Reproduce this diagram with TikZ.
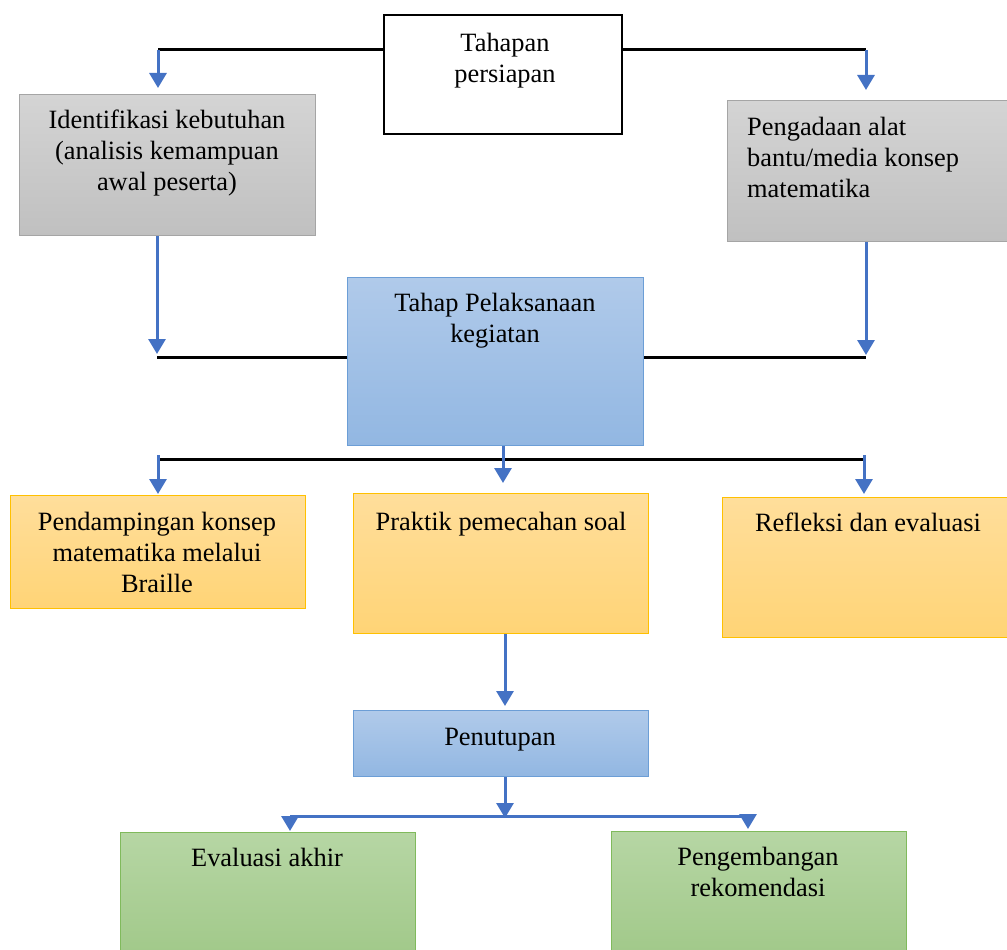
\documentclass[tikz,border=0pt]{standalone}
\usepackage{fontspec}
\setmainfont{Liberation Serif}
\usetikzlibrary{arrows.meta}
\definecolor{graytop}{RGB}{212,212,212}
\definecolor{graybot}{RGB}{192,192,192}
\definecolor{grayborder}{RGB}{165,165,165}
\definecolor{bluetop}{RGB}{176,202,234}
\definecolor{bluebot}{RGB}{146,183,226}
\definecolor{blueborder}{RGB}{108,158,214}
\definecolor{orangetop}{RGB}{255,222,155}
\definecolor{orangebot}{RGB}{255,212,118}
\definecolor{orangeborder}{RGB}{255,192,0}
\definecolor{greentop}{RGB}{182,214,164}
\definecolor{greenbot}{RGB}{160,200,136}
\definecolor{greenborder}{RGB}{128,186,92}
\definecolor{arrowblue}{RGB}{68,114,196}
\begin{document}
\begin{tikzpicture}[x=1pt,y=-1pt,
  box/.style={anchor=north west,inner sep=0pt,line width=1.2pt},
  whitebox/.style={box,draw=black,line width=2.2pt,fill=white},
  graybox/.style={box,draw=grayborder,top color=graytop,bottom color=graybot},
  bluebox/.style={box,draw=blueborder,top color=bluetop,bottom color=bluebot},
  orangebox/.style={box,draw=orangeborder,top color=orangetop,bottom color=orangebot},
  greenbox/.style={box,draw=greenborder,top color=greentop,bottom color=greenbot},
  txt/.style={anchor=base,inner sep=0pt,align=center,font=\fontsize{26.4pt}{31pt}\selectfont},
  blk/.style={draw=black,line width=3pt},
  bl/.style={draw=arrowblue,line width=3pt},
  arr/.style={bl,-{Triangle[width=17pt,length=15pt]}}]
\useasboundingbox (0,0) rectangle (1007,950);
% boxes
\node[whitebox,minimum width=238pt,minimum height=119pt] (top) at (383,14) {};
\node[graybox,minimum width=296pt,minimum height=141pt] (gl) at (19,94) {};
\node[graybox,minimum width=290pt,minimum height=141pt] (gr) at (727,100) {};
\node[bluebox,minimum width=296pt,minimum height=168pt] (pel) at (347,277) {};
\node[orangebox,minimum width=295pt,minimum height=113pt] (ol) at (10,495) {};
\node[orangebox,minimum width=295pt,minimum height=140pt] (om) at (353,493) {};
\node[orangebox,minimum width=295pt,minimum height=140pt] (or) at (722,497) {};
\node[bluebox,minimum width=295pt,minimum height=66pt] (pen) at (353,710) {};
\node[greenbox,minimum width=295pt,minimum height=130pt] (gel) at (120,832) {};
\node[greenbox,minimum width=295pt,minimum height=130pt] (ger) at (611,831) {};
% texts (anchor base = baseline of the last line)
\node[txt] (ttop) at (505,82) {Tahapan\\persiapan};
\node[txt] (tgl) at (167,190) {Identifikasi kebutuhan\\(analisis kemampuan\\awal peserta)};
\node[txt,align=left,anchor=base west] (tgr) at (747,197) {Pengadaan alat\\bantu/media konsep\\matematika};
\node[txt] (tpel) at (495,342) {Tahap Pelaksanaan\\kegiatan};
\node[txt] (tol) at (157,592) {Pendampingan konsep\\matematika melalui\\Braille};
\node[txt] (tom) at (501,530) {Praktik pemecahan soal};
\node[txt] (tor) at (868,531) {Refleksi dan evaluasi};
\node[txt] (tpen) at (500,745) {Penutupan};
\node[txt] (tgel) at (267,866) {Evaluasi akhir};
\node[txt] (tger) at (758,896) {Pengembangan\\rekomendasi};
% connectors level 1
\coordinate (a1) at (158,50);
\coordinate (a2) at (866,50);
\draw[blk] (top.west |- a1) -- (a1);
\draw[blk] (top.east |- a2) -- (a2);
\draw[arr,shorten >=6pt] (a1) -- (gl.north -| a1);
\draw[arr,shorten >=10pt] (a2) -- (gr.north -| a2);
% level 2
\coordinate (b1) at (157,357);
\coordinate (b2) at (866,357);
\draw[arr,shorten >=3pt] (gl.south -| b1) -- (b1);
\draw[arr,shorten >=2pt] (gr.south -| b2) -- (b2);
\draw[blk] (b1) -- (pel.west |- b1);
\draw[blk] (pel.east |- b2) -- (b2);
% level 3
\coordinate (c1) at (158,459);
\coordinate (c2) at (864,459);
\coordinate (c3) at (503,459);
\draw[blk] (c1) -- (c2);
\draw[arr,shorten >=1pt] ([yshift=4pt]c1) -- (ol.north -| c1);
\draw[arr,shorten >=10pt] (pel.south -| c3) -- (om.north -| c3);
\draw[arr,shorten >=3pt] ([yshift=4pt]c2) -- (or.north -| c2);
% level 4
\coordinate (d1) at (505,700);
\draw[arr,shorten >=4pt] (om.south -| d1) -- (pen.north -| d1);
% level 5
\coordinate (e0) at (505,818);
\coordinate (e1) at (290,816);
\coordinate (e2) at (748,816);
\draw[bl] (e1) -- (e2);
\draw[arr] (pen.south -| e0) -- (e0);
\draw[arr,shorten >=1pt] (e1) -- (gel.north -| e1);
\draw[arr,shorten >=2pt] (e2) -- (ger.north -| e2);
\end{tikzpicture}
\end{document}
